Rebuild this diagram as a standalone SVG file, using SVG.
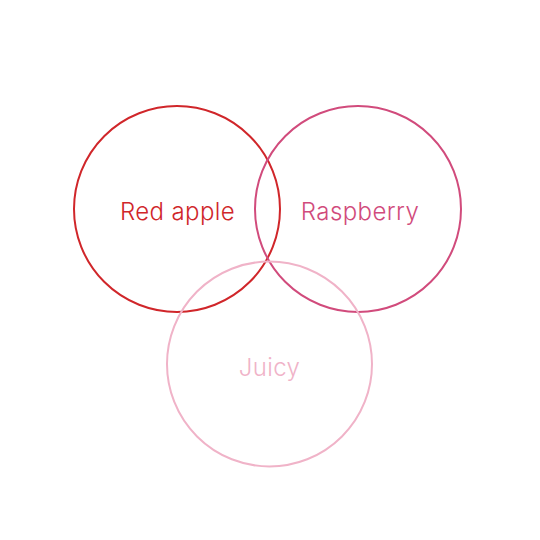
<svg xmlns="http://www.w3.org/2000/svg" width="540" height="540" viewBox="0 0 540 540">
<style>
circle{fill:none;stroke-width:2}
text{font-family:Inter,"Liberation Sans",sans-serif;font-size:24px;font-weight:300;letter-spacing:0.4px;text-anchor:middle}
</style>
<rect width="540" height="540" fill="#fff"/>
<g id="red-apple"><circle cx="177" cy="209" r="103" stroke="#d0262a"/><text x="177.5" y="219.5" fill="#d0262a">Red apple</text></g>
<g id="raspberry"><circle cx="358" cy="209" r="103" stroke="#d14b7c"/><text x="360" y="219.5" fill="#d14b7c">Raspberry</text></g>
<g id="juicy"><circle cx="269.5" cy="364" r="102.5" stroke="#f0b3c8"/><text x="269.5" y="375.5" fill="#f0b3c8">Juicy</text></g>
</svg>
